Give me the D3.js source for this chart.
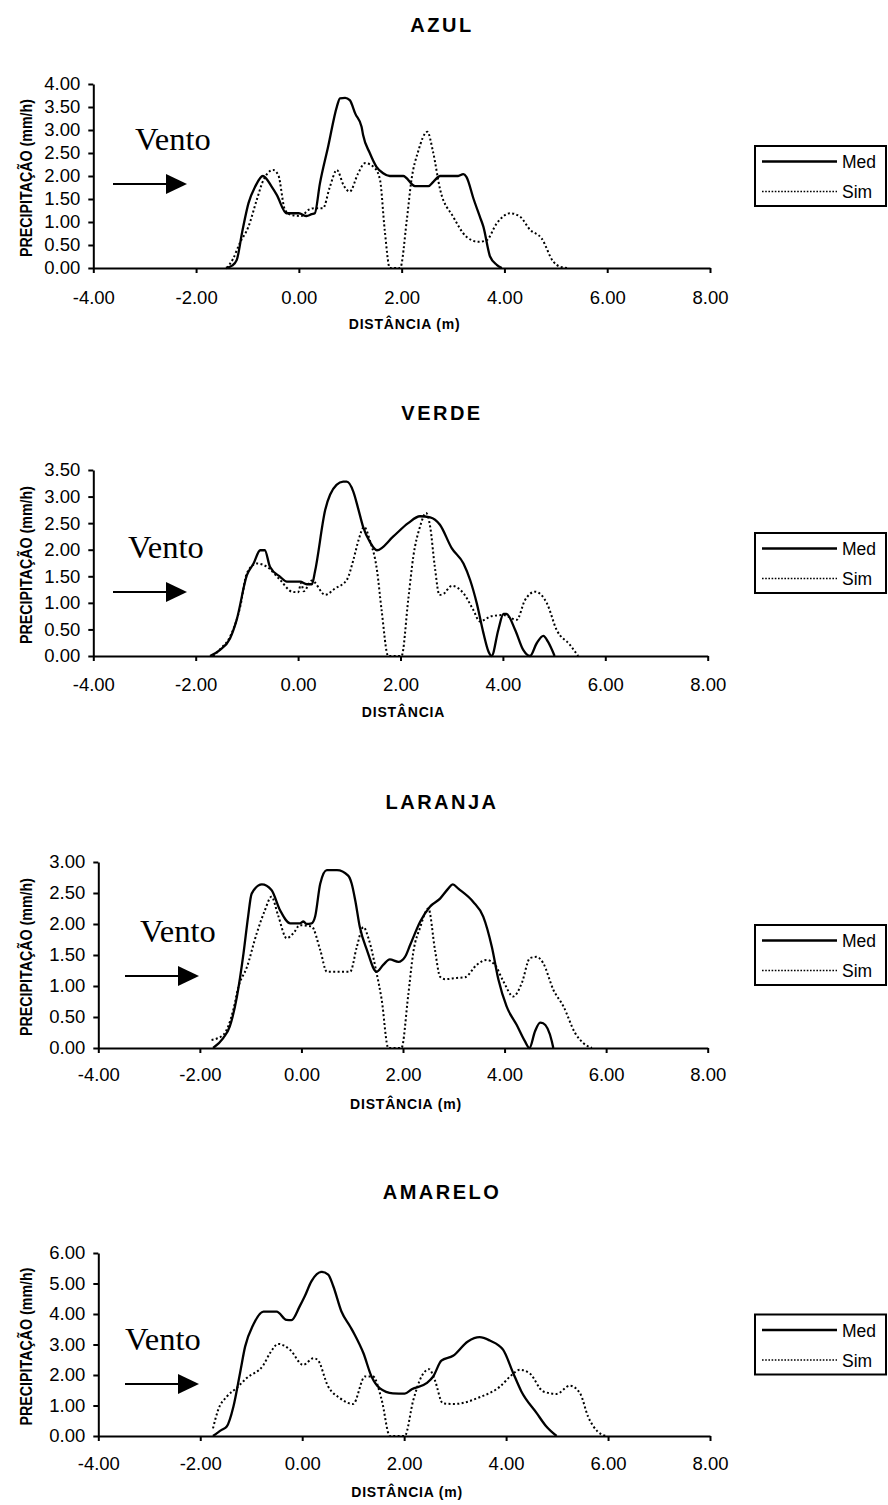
<!DOCTYPE html>
<html>
<head>
<meta charset="utf-8">
<script src="https://cdn.jsdelivr.net/npm/d3@7"></script>
<style>
  html, body { margin: 0; padding: 0; background: #fff; }
  svg { display: block; }
  text { fill: #000; }
</style>
</head>
<body>
<svg id="chart" width="888" height="1505"></svg>
<script>
// ---- data: distance (m) vs precipitation (mm/h), measured (Med) and simulated (Sim)
const xTicks = [-4, -2, 0, 2, 4, 6, 8];

const azulTicks = [0, 0.5, 1, 1.5, 2, 2.5, 3, 3.5, 4];
const azulMed = [[-1.42,0],[-1.30,0.05],[-1.21,0.17],[-1.10,0.80],[-0.98,1.41],[-0.85,1.77],[-0.70,2.0],[-0.53,1.77],[-0.43,1.59],[-0.24,1.19],[0.0,1.19],[0.15,1.13],[0.25,1.17],[0.31,1.19],[0.41,1.84],[0.57,2.64],[0.74,3.51],[0.80,3.69],[0.90,3.70],[0.99,3.65],[1.10,3.35],[1.22,3.07],[1.25,2.89],[1.38,2.50],[1.51,2.20],[1.64,2.06],[1.77,2.0],[2.03,2.0],[2.26,1.78],[2.52,1.78],[2.62,1.88],[2.75,2.0],[3.10,2.0],[3.20,2.04],[3.26,1.98],[3.40,1.50],[3.52,1.12],[3.59,0.90],[3.72,0.25],[3.85,0.07],[3.95,0]];
const azulSim = [[-1.40,0],[-1.28,0.2],[-1.15,0.54],[-0.98,0.90],[-0.82,1.48],[-0.69,1.91],[-0.50,2.13],[-0.40,2.02],[-0.27,1.26],[-0.14,1.15],[0.05,1.13],[0.18,1.26],[0.31,1.30],[0.47,1.30],[0.60,1.75],[0.74,2.13],[0.87,1.80],[0.99,1.66],[1.15,2.05],[1.29,2.28],[1.48,2.17],[1.58,1.91],[1.67,0.83],[1.77,0],[1.97,0],[2.10,1.04],[2.19,1.91],[2.32,2.53],[2.50,2.96],[2.61,2.53],[2.75,1.70],[3.00,1.12],[3.26,0.68],[3.49,0.57],[3.65,0.60],[3.85,0.97],[4.11,1.19],[4.30,1.12],[4.50,0.83],[4.72,0.65],[4.95,0.14],[5.08,0.03],[5.24,0]];

const verdeTicks = [0, 0.5, 1, 1.5, 2, 2.5, 3, 3.5];
const verdeMed = [[-1.72,0],[-1.53,0.11],[-1.33,0.33],[-1.20,0.68],[-1.00,1.52],[-0.87,1.74],[-0.74,1.99],[-0.65,1.99],[-0.55,1.68],[-0.35,1.49],[-0.22,1.40],[0.04,1.40],[0.17,1.35],[0.27,1.35],[0.33,1.59],[0.53,2.75],[0.75,3.22],[0.88,3.28],[0.95,3.28],[1.08,3.09],[1.18,2.75],[1.27,2.43],[1.40,2.15],[1.54,1.99],[1.86,2.25],[2.15,2.50],[2.38,2.63],[2.58,2.61],[2.77,2.47],[3.00,2.03],[3.23,1.74],[3.36,1.43],[3.49,0.99],[3.62,0.43],[3.72,0.08],[3.78,0],[3.91,0.49],[4.01,0.79],[4.07,0.79],[4.24,0.49],[4.40,0.11],[4.53,0],[4.66,0.24],[4.79,0.38],[4.88,0.27],[5.01,0]];
const verdeSim = [[-1.66,0],[-1.50,0.15],[-1.33,0.36],[-1.13,0.93],[-1.00,1.56],[-0.81,1.74],[-0.61,1.68],[-0.35,1.43],[-0.12,1.21],[0.00,1.20],[0.06,1.37],[0.11,1.22],[0.27,1.42],[0.53,1.15],[0.72,1.27],[0.95,1.43],[1.08,1.81],[1.18,2.18],[1.29,2.43],[1.40,2.18],[1.54,1.62],[1.63,0.87],[1.76,0],[2.02,0],[2.15,1.05],[2.25,1.87],[2.38,2.43],[2.50,2.69],[2.58,2.43],[2.67,1.68],[2.76,1.15],[2.84,1.17],[3.00,1.32],[3.23,1.18],[3.42,0.87],[3.55,0.65],[3.78,0.75],[4.01,0.77],[4.27,0.68],[4.43,1.05],[4.63,1.21],[4.86,0.99],[5.05,0.49],[5.31,0.21],[5.47,0]];

const laranjaTicks = [0, 0.5, 1, 1.5, 2, 2.5, 3];
const laranjaMed = [[-1.74,0],[-1.54,0.16],[-1.41,0.35],[-1.27,0.83],[-1.14,1.53],[-1.05,2.12],[-0.98,2.49],[-0.78,2.64],[-0.59,2.55],[-0.42,2.22],[-0.22,2.01],[-0.03,2.01],[0.04,2.04],[0.10,2.0],[0.20,2.01],[0.27,2.12],[0.37,2.65],[0.50,2.87],[0.70,2.87],[0.92,2.78],[0.99,2.65],[1.06,2.38],[1.15,1.95],[1.29,1.58],[1.48,1.23],[1.61,1.34],[1.74,1.43],[1.91,1.39],[2.04,1.47],[2.14,1.66],[2.34,2.04],[2.53,2.28],[2.73,2.41],[2.89,2.57],[2.98,2.64],[3.09,2.57],[3.38,2.36],[3.58,2.12],[3.75,1.63],[3.88,1.10],[4.04,0.67],[4.24,0.37],[4.40,0.11],[4.49,0],[4.60,0.27],[4.70,0.41],[4.76,0.40],[4.93,0.11],[4.96,0]];
const laranjaSim = [[-1.77,0.13],[-1.54,0.21],[-1.34,0.62],[-1.24,0.99],[-1.08,1.29],[-0.88,1.85],[-0.72,2.22],[-0.59,2.44],[-0.46,2.14],[-0.29,1.77],[-0.16,1.85],[-0.03,1.98],[0.20,1.96],[0.37,1.58],[0.50,1.23],[0.96,1.23],[1.09,1.63],[1.22,1.95],[1.32,1.77],[1.48,1.21],[1.58,0.78],[1.71,0],[1.97,0],[2.10,0.83],[2.20,1.53],[2.34,1.95],[2.50,2.25],[2.63,1.58],[2.73,1.15],[2.83,1.11],[3.06,1.13],[3.22,1.14],[3.45,1.34],[3.65,1.42],[3.81,1.34],[3.98,1.07],[4.17,0.83],[4.34,1.05],[4.50,1.45],[4.63,1.47],[4.76,1.37],[4.96,0.94],[5.16,0.67],[5.39,0.24],[5.55,0.08],[5.72,0]];

const amareloTicks = [0, 1, 2, 3, 4, 5, 6];
const amareloMed = [[-1.75,0],[-1.58,0.2],[-1.48,0.31],[-1.35,0.96],[-1.22,2.06],[-1.12,2.93],[-0.96,3.65],[-0.76,4.08],[-0.50,4.08],[-0.31,3.81],[-0.21,3.80],[-0.05,4.25],[0.05,4.58],[0.18,5.07],[0.38,5.38],[0.51,5.29],[0.61,4.91],[0.77,4.08],[0.94,3.59],[1.03,3.32],[1.20,2.72],[1.36,1.95],[1.52,1.57],[1.78,1.40],[2.01,1.39],[2.15,1.53],[2.44,1.73],[2.57,1.95],[2.73,2.47],[2.96,2.63],[3.25,3.10],[3.48,3.24],[3.68,3.13],[3.94,2.83],[4.14,2.06],[4.30,1.46],[4.60,0.75],[4.79,0.31],[4.99,0]];
const amareloSim = [[-1.75,0.25],[-1.65,0.85],[-1.48,1.29],[-1.29,1.57],[-1.09,1.90],[-0.76,2.33],[-0.63,2.72],[-0.47,3.02],[-0.24,2.83],[0.02,2.33],[0.22,2.55],[0.30,2.50],[0.51,1.62],[0.74,1.24],[1.00,1.05],[1.23,1.95],[1.39,1.95],[1.56,1.18],[1.72,0],[2.01,0],[2.18,1.18],[2.34,1.95],[2.49,2.19],[2.60,1.84],[2.76,1.07],[2.99,1.05],[3.48,1.27],[3.88,1.62],[4.11,2.0],[4.27,2.17],[4.46,2.06],[4.73,1.46],[4.99,1.38],[5.25,1.65],[5.45,1.40],[5.61,0.63],[5.80,0.14],[5.97,0]];

const seriesNames = ["Med", "Sim"];

// ---- layout of the four stacked panels
const panels = [
  { title: "AZUL",    xTitle: "DISTÂNCIA (m)", ticks: azulTicks,    med: azulMed,    sim: azulSim,
    left: 93.3, right: 710,   top: 84,   bottom: 268,  titleY: 32,   tickPad: 18,
    vento: [135, 150], arrow: [113, 187, 184] },
  { title: "VERDE",   xTitle: "DISTÂNCIA",     ticks: verdeTicks,   med: verdeMed,   sim: verdeSim,
    left: 93.3, right: 707.7, top: 470,  bottom: 656,  titleY: 420,  tickPad: 17,
    vento: [128, 558], arrow: [113, 187, 592] },
  { title: "LARANJA", xTitle: "DISTÂNCIA (m)", ticks: laranjaTicks, med: laranjaMed, sim: laranjaSim,
    left: 98.3, right: 707.7, top: 862,  bottom: 1048, titleY: 809,  tickPad: 15,
    vento: [140, 942], arrow: [125, 199, 976] },
  { title: "AMARELO", xTitle: "DISTÂNCIA (m)", ticks: amareloTicks, med: amareloMed, sim: amareloSim,
    left: 98.3, right: 710,   top: 1253, bottom: 1436, titleY: 1199, tickPad: 16,
    vento: [125, 1350], arrow: [125, 199, 1384] }
];

const SANS = "'Liberation Sans', Arial, sans-serif";
const SERIF = "'Liberation Serif', 'Times New Roman', serif";

const svg = d3.select("#chart").style("font-family", SANS);
svg.append("rect").attr("width", 888).attr("height", 1505).attr("fill", "#fff");

const fmt = d => d.toFixed(2);

panels.forEach(p => {
  const g = svg.append("g");
  const x = d3.scaleLinear().domain([-4, 8]).range([p.left, p.right]);
  const y = d3.scaleLinear().domain([0, d3.max(p.ticks)]).range([p.bottom, p.top]);
  const midY = (p.top + p.bottom) / 2;
  const midX = (p.left + p.right) / 2;

  // chart title
  g.append("text")
    .attr("x", 442).attr("y", p.titleY)
    .attr("text-anchor", "middle")
    .style("font-family", SANS)
    .attr("font-size", 20).attr("font-weight", "bold")
    .attr("letter-spacing", 2.5)
    .text(p.title);

  // series
  const line = d3.line().x(d => x(d[0])).y(d => y(d[1])).curve(d3.curveMonotoneX);
  g.append("path").datum(p.sim)
    .attr("d", line).attr("fill", "none").attr("stroke", "#000")
    .attr("stroke-width", 2).attr("stroke-dasharray", "2,2.4");
  g.append("path").datum(p.med)
    .attr("d", line).attr("fill", "none").attr("stroke", "#000")
    .attr("stroke-width", 2.3).attr("stroke-linejoin", "round");

  // axes
  const yAxis = g.append("g").attr("transform", `translate(${p.left},0)`)
    .call(d3.axisLeft(y).tickValues(p.ticks).tickFormat(fmt).tickSize(5).tickSizeOuter(0).tickPadding(8));
  const xAxis = g.append("g").attr("transform", `translate(0,${p.bottom})`)
    .call(d3.axisBottom(x).tickValues(xTicks).tickFormat(fmt).tickSize(5).tickSizeOuter(0).tickPadding(p.tickPad));
  [yAxis, xAxis].forEach(a => {
    a.attr("font-family", null).attr("font-size", null);
    a.select(".domain").attr("stroke", "#000").attr("stroke-width", 2);
    a.selectAll(".tick line").attr("stroke", "#000").attr("stroke-width", 2);
    a.selectAll(".tick text").style("font-family", SANS).style("font-size", "18.5px").attr("fill", "#000");
  });

  // axis titles
  g.append("text")
    .attr("x", midX + 3).attr("y", p.bottom + 61)
    .attr("text-anchor", "middle")
    .style("font-family", SANS)
    .attr("font-size", 14).attr("font-weight", "bold").attr("letter-spacing", 0.8)
    .text(p.xTitle);
  g.append("text")
    .attr("transform", `translate(32,${midY + 2}) rotate(-90)`)
    .attr("text-anchor", "middle")
    .style("font-family", SANS)
    .attr("font-size", 16).attr("font-weight", "bold")
    .attr("textLength", 158).attr("lengthAdjust", "spacingAndGlyphs")
    .text("PRECIPITAÇÃO (mm/h)");

  // wind annotation
  g.append("text")
    .attr("x", p.vento[0]).attr("y", p.vento[1])
    .style("font-family", SERIF)
    .style("font-size", "32.5px")
    .text("Vento");
  const [ax1, ax2, ay] = p.arrow;
  g.append("line")
    .attr("x1", ax1).attr("x2", ax2 - 20).attr("y1", ay).attr("y2", ay)
    .attr("stroke", "#000").attr("stroke-width", 2);
  g.append("path")
    .attr("d", `M${ax2 - 21},${ay - 10}L${ax2},${ay}L${ax2 - 21},${ay + 10}Z`)
    .attr("fill", "#000");

  // legend
  const lg = g.append("g").attr("transform", `translate(755,${midY - 30})`);
  lg.append("rect").attr("x", 0).attr("y", 0).attr("width", 131).attr("height", 60)
    .attr("fill", "#fff").attr("stroke", "#000").attr("stroke-width", 2);
  seriesNames.forEach((name, i) => {
    const ly = 15.5 + i * 30;
    lg.append("line").attr("x1", 7).attr("x2", 82).attr("y1", ly).attr("y2", ly)
      .attr("stroke", "#000")
      .attr("stroke-width", i === 0 ? 2.3 : 1.6)
      .attr("stroke-dasharray", i === 0 ? null : "1.6,1.6");
    lg.append("text").attr("x", 87).attr("y", ly + 6.5)
      .style("font-family", SANS)
      .attr("font-size", 17.5).text(name);
  });
});
</script>
</body>
</html>
